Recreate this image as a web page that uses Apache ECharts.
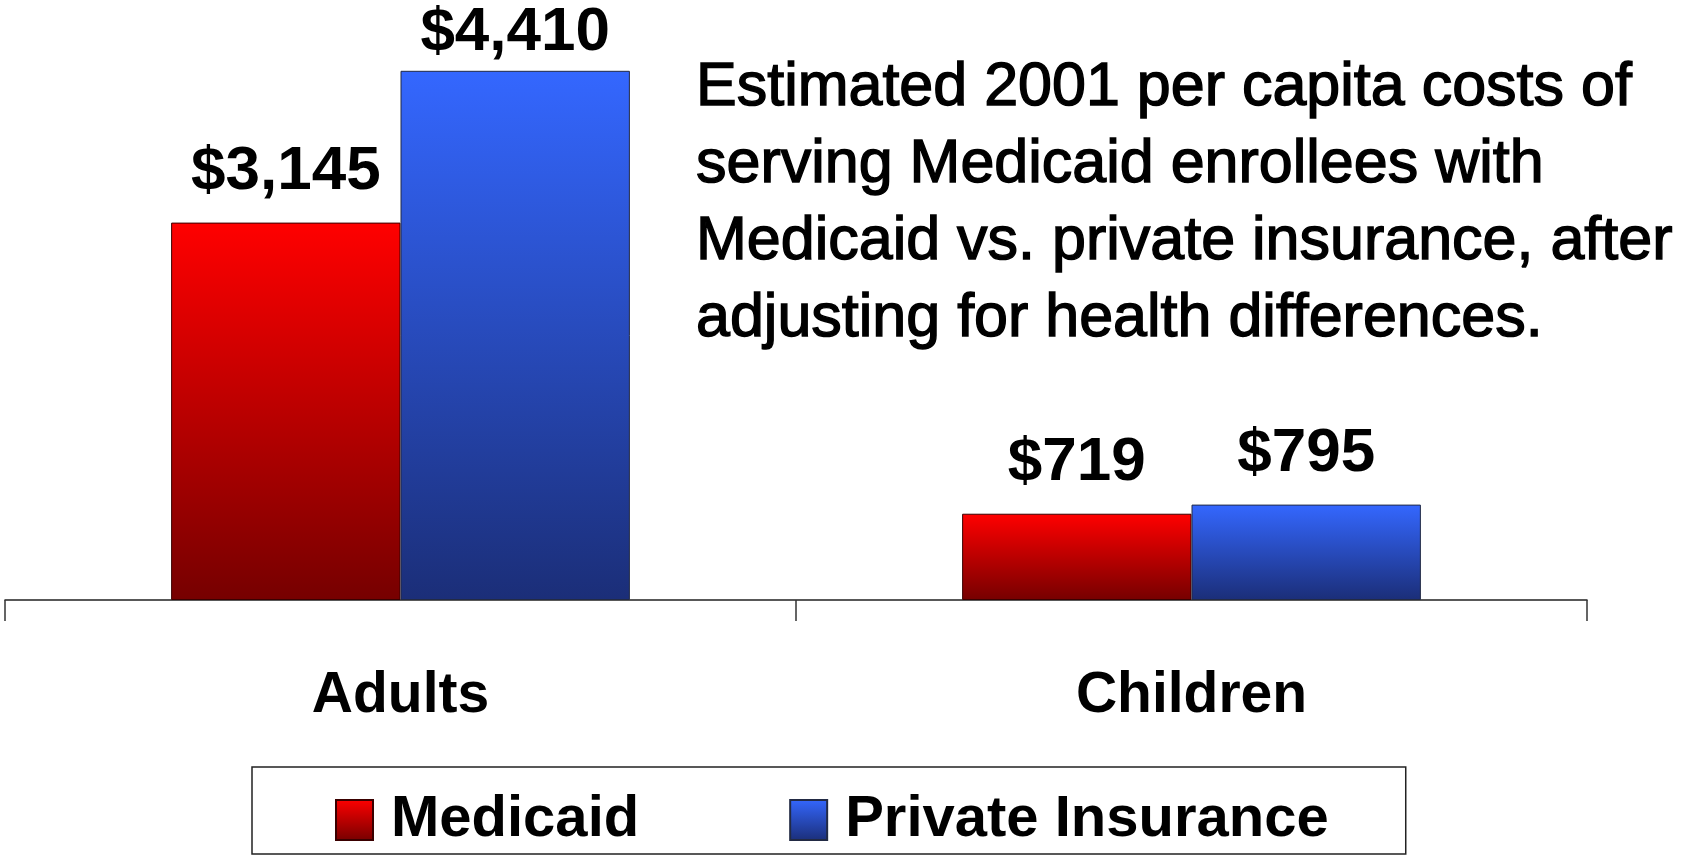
<!DOCTYPE html>
<html>
<head>
<meta charset="utf-8">
<script src="https://cdn.jsdelivr.net/npm/echarts@6/dist/echarts.min.js"></script>
<style>
html,body{margin:0;padding:0;background:#fff;}
#chart{width:1690px;height:855px;}
</style>
</head>
<body>
<div id="chart"></div>
<script>
const categories = ['Adults', 'Children'];
const seriesNames = ['Medicaid', 'Private Insurance'];
const medicaidValues = [3145, 719];
const privateValues = [4410, 795];
const titleLines = [
  'Estimated 2001 per capita costs of',
  'serving Medicaid enrollees with',
  'Medicaid vs. private insurance, after',
  'adjusting for health differences.'
];

const chart = echarts.init(document.getElementById('chart'));

function grad(top, bottom) {
  return new echarts.graphic.LinearGradient(0, 0, 0, 1, [
    { offset: 0, color: top },
    { offset: 1, color: bottom }
  ]);
}
const redGrad = grad('#ff0000', '#760000');
const blueGrad = grad('#3467ff', '#1b2e78');

const labelStyle = {
  show: true,
  position: 'top',
  distance: 20,
  fontFamily: 'Liberation Sans, Arial, sans-serif',
  fontWeight: 'bold',
  fontSize: 62,
  color: '#000',
  formatter: p => '$' + p.value.toLocaleString('en-US')
};

function buildData(values, overrides) {
  return values.map((v, i) => overrides && overrides[i] ? Object.assign({ value: v }, overrides[i]) : v);
}

chart.setOption({
  backgroundColor: '#ffffff',
  animation: false,
  title: {
    text: titleLines.join('\n'),
    left: 691,
    top: 45,
    textStyle: {
      fontFamily: 'Liberation Sans, Arial, sans-serif',
      fontWeight: 'normal',
      fontSize: 61,
      lineHeight: 77,
      color: '#000',
      textBorderColor: '#000',
      textBorderWidth: 1.4
    }
  },
  grid: { left: 5, right: 103, top: 0, bottom: 255, containLabel: false },
  xAxis: {
    type: 'category',
    data: categories,
    axisLine: { show: true, lineStyle: { color: '#222', width: 1.5 } },
    axisTick: { show: true, length: 21, lineStyle: { color: '#333', width: 1.5 } },
    axisLabel: {
      margin: 68,
      fontFamily: 'Liberation Sans, Arial, sans-serif',
      fontWeight: 'bold',
      fontSize: 57,
      color: '#000'
    }
  },
  yAxis: {
    type: 'value',
    min: 0,
    max: 5000,
    show: false,
    splitLine: { show: false }
  },
  legend: {
    data: seriesNames.map(n => ({ name: n, icon: 'rect' })),
    left: 252,
    top: 767,
    orient: 'horizontal',
    itemWidth: 37,
    itemHeight: 40,
    itemGap: 150,
    padding: [24, 77, 5, 83],
    borderColor: '#222',
    borderWidth: 1.5,
    borderRadius: 0,
    backgroundColor: '#fff',
    textStyle: {
      fontFamily: 'Liberation Sans, Arial, sans-serif',
      fontWeight: 'bold',
      fontSize: 58,
      lineHeight: 56,
      color: '#000',
      padding: [0, 0, 0, 13]
    }
  },
  series: [
    {
      name: seriesNames[0],
      type: 'bar',
      barGap: '0%',
      barCategoryGap: '42%',
      data: buildData(medicaidValues),
      itemStyle: { color: redGrad, borderColor: '#3a0000', borderWidth: 1 },
      label: labelStyle
    },
    {
      name: seriesNames[1],
      type: 'bar',
      data: buildData(privateValues, [{ label: { distance: 7 } }]),
      itemStyle: { color: blueGrad, borderColor: '#222a44', borderWidth: 1 },
      label: labelStyle
    }
  ]
});
</script>
</body>
</html>
